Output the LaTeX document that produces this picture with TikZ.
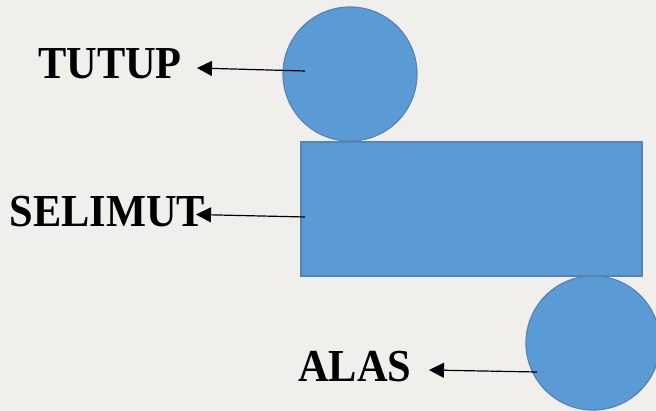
\documentclass[tikz,border=0pt]{standalone}
\usepackage{fontspec}
\setmainfont{Liberation Serif}
\usetikzlibrary{arrows.meta}
\definecolor{bgc}{HTML}{F0EFEC}
\definecolor{shapefill}{HTML}{5B9BD5}
\definecolor{shapeline}{HTML}{5585B5}
\tikzset{
  shapestyle/.style={fill=shapefill,draw=shapeline,line width=1.2pt,inner sep=0pt},
  roundshape/.style={shapestyle,circle,minimum size=134pt},
  labeltext/.style={font=\bfseries\fontsize{42.4}{42.4}\selectfont,text=black,inner sep=0pt,anchor=base west},
  pointer/.style={draw=black,line width=1.2pt,-{Triangle[length=15pt,width=15pt]}}
}
\newcommand{\tallword}[1]{\scalebox{1}[1.08]{#1}}
\begin{document}
\begin{tikzpicture}[x=1pt,y=-1pt]
\useasboundingbox (0,0) rectangle (656,411);
\fill[bgc] (0,0) rectangle (656,411);
\node[roundshape] (tutupc) at (350,74) {};
\node[roundshape] (alasc) at (593,343) {};
\node[shapestyle,rectangle,minimum width=341pt,minimum height=134pt] (selimutr) at (471.5,209) {};
\node[labeltext] (tutup) at (38,78.5) {\tallword{TUTUP}};
\node[labeltext] (selimut) at (9.5,226.5) {\tallword{SELIMUT}};
\node[labeltext] (alas) at (298,382) {\tallword{ALAS}};
\coordinate (a1) at (305,71);
\coordinate (a1e) at (197,68);
\coordinate (a2) at (305,217);
\coordinate (a2e) at (196,214.5);
\coordinate (a3) at (537,372);
\coordinate (a3e) at (429,370);
\draw[pointer] (a1) -- (a1e);
\draw[pointer] (a2) -- (a2e);
\draw[pointer] (a3) -- (a3e);
\end{tikzpicture}
\end{document}
